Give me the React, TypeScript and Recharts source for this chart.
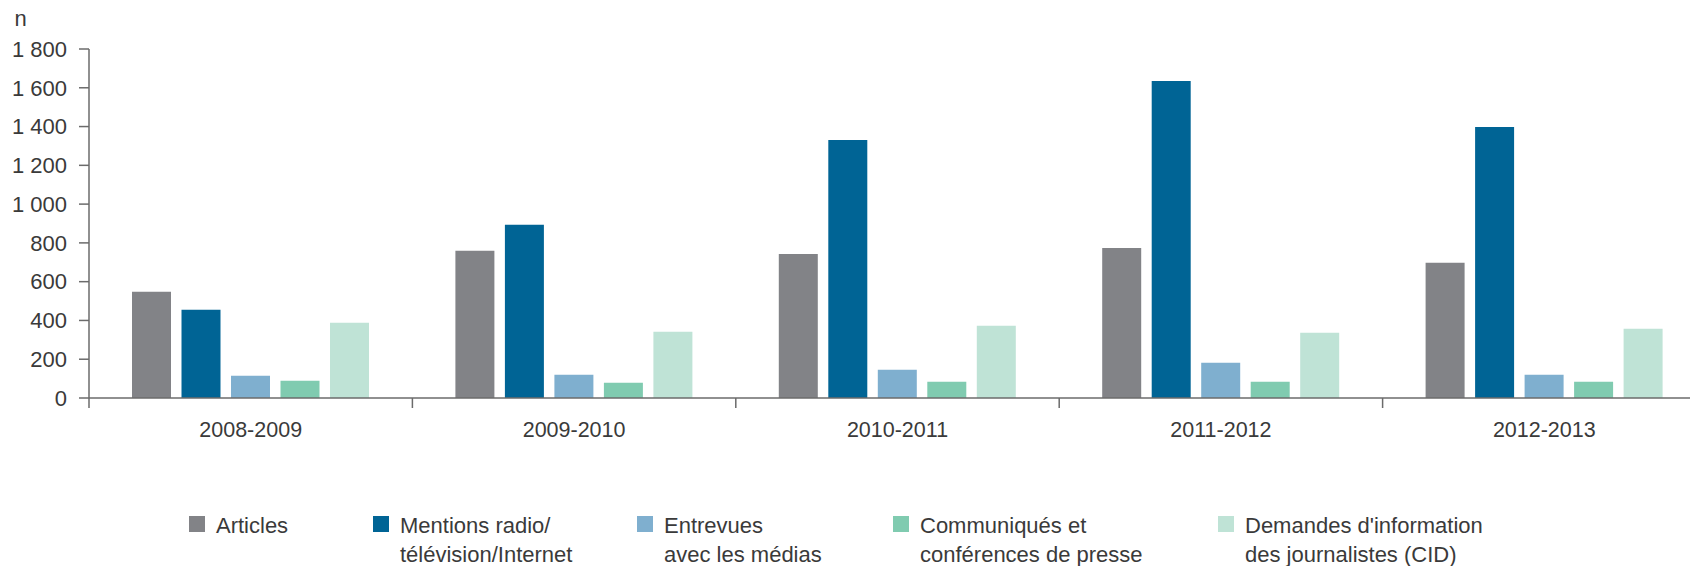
import { Bar, BarChart, XAxis, YAxis } from "recharts";

const periods = ["2008-2009", "2009-2010", "2010-2011", "2011-2012", "2012-2013"];

const articles = [548, 759, 743, 774, 697];
const mentions = [455, 893, 1331, 1635, 1398];
const entrevues = [115, 120, 146, 182, 120];
const communiques = [89, 79, 84, 84, 84];
const demandes = [388, 342, 372, 336, 357];

const yTicks = [0, 200, 400, 600, 800, 1000, 1200, 1400, 1600, 1800];

const series = [
  { key: "articles", values: articles, color: "#828387", lines: ["Articles"] },
  { key: "mentions", values: mentions, color: "#006495", lines: ["Mentions radio/", "télévision/Internet"] },
  { key: "entrevues", values: entrevues, color: "#7fafcf", lines: ["Entrevues", "avec les médias"] },
  { key: "communiques", values: communiques, color: "#80cbb0", lines: ["Communiqués et", "conférences de presse"] },
  { key: "demandes", values: demandes, color: "#bfe3d6", lines: ["Demandes d'information", "des journalistes (CID)"] }
];

// left edge of each legend swatch
const legendLeft = [189, 373, 637, 893, 1218];

const CHART_W = 1706;
const Y_AXIS_W = 89;
const LABEL_GAP = 24;

const FONT = "'Liberation Sans', Arial, sans-serif";
const TEXT = "#3a3a3a";
const AXIS = "#6b6b6b";

function formatThousands(value: number) {
  return String(value).replace(/\B(?=(\d{3})+(?!\d))/g, " ");
}

// category label plus a tick mark on each band boundary
function PeriodTick(props: any) {
  const { x, y, payload, index } = props;
  const half =
    payload && payload.offset ? payload.offset : (CHART_W - Y_AXIS_W) / periods.length / 2;
  const axisY = y - LABEL_GAP;
  const last = index === periods.length - 1;

  return (
    <g>
      <line x1={x - half} x2={x - half} y1={axisY} y2={axisY + 10} stroke={AXIS} strokeWidth={1.5} />
      {last && (
        <line x1={x + half} x2={x + half} y1={axisY} y2={axisY + 10} stroke={AXIS} strokeWidth={1.5} />
      )}
      <text
        x={x}
        y={y}
        dy="0.71em"
        textAnchor="middle"
        fill={TEXT}
        fontSize={21.5}
        fontFamily={FONT}
      >
        {payload.value}
      </text>
    </g>
  );
}

export default function App() {
  const chartData = periods.map((period, i) => {
    const row: Record<string, string | number> = { period };
    series.forEach((s) => {
      row[s.key] = s.values[i];
    });
    return row;
  });

  return (
    <div
      style={{
        position: "absolute",
        left: 0,
        top: 0,
        width: 1690,
        height: 566,
        overflow: "hidden",
        background: "#ffffff",
        fontFamily: FONT
      }}
    >
      <div
        style={{
          position: "absolute",
          left: 14.5,
          top: 8.4,
          fontSize: 22,
          lineHeight: "22px",
          color: TEXT
        }}
      >
        n
      </div>

      <BarChart
        width={CHART_W}
        height={566}
        data={chartData}
        margin={{ top: 49, right: 0, bottom: 128, left: 0 }}
        barSize={39}
        barGap={10.5}
      >
        <XAxis
          dataKey="period"
          height={40}
          axisLine={{ stroke: AXIS, strokeWidth: 1.5 }}
          tickLine={false}
          tickSize={0}
          tickMargin={LABEL_GAP}
          tick={<PeriodTick />}
          interval={0}
        />
        <YAxis
          width={Y_AXIS_W}
          domain={[0, 1800]}
          ticks={yTicks}
          interval={0}
          axisLine={{ stroke: AXIS, strokeWidth: 1.5 }}
          tickLine={{ stroke: AXIS, strokeWidth: 1.5 }}
          tickSize={10}
          tickMargin={12}
          tickFormatter={formatThousands}
          tick={{ fill: TEXT, fontSize: 22, fontFamily: FONT }}
        />

        {series.map((s) => (
          <Bar key={s.key} dataKey={s.key} fill={s.color} isAnimationActive={false} />
        ))}
      </BarChart>

      {series.map((s, i) => (
        <div
          key={s.key}
          style={{ position: "absolute", left: legendLeft[i], top: 516 }}
        >
          <div style={{ width: 16, height: 16, background: s.color }} />
          <div
            style={{
              position: "absolute",
              left: 27,
              top: -5,
              fontSize: 22,
              lineHeight: "29px",
              color: TEXT,
              whiteSpace: "nowrap"
            }}
          >
            {s.lines.map((line) => (
              <div key={line}>{line}</div>
            ))}
          </div>
        </div>
      ))}
    </div>
  );
}
